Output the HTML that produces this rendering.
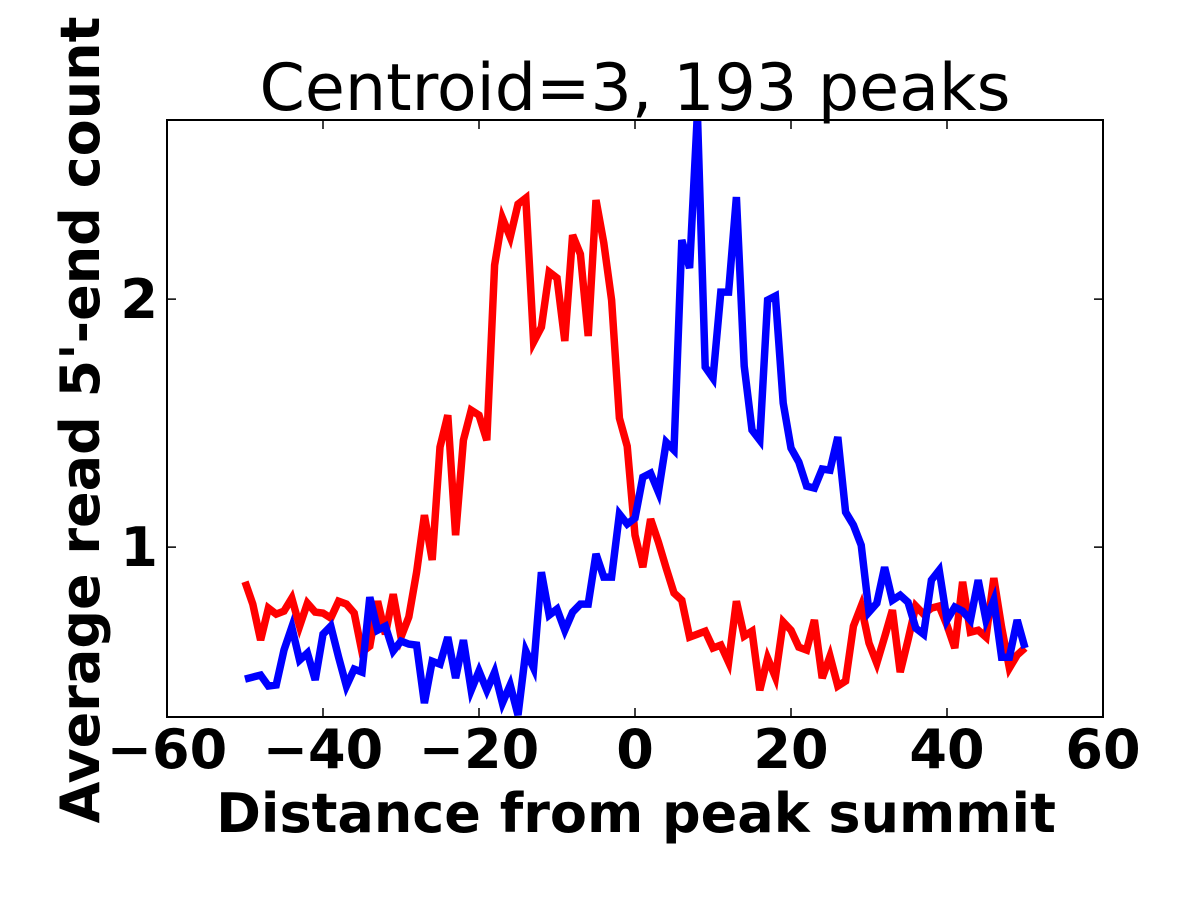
<!DOCTYPE html>
<html><head><meta charset="utf-8"><style>
html,body{margin:0;padding:0;background:#fff;}
svg{display:block;font-family:"DejaVu Sans","Liberation Sans",sans-serif;}
</style></head><body>
<svg id="chart" width="1200" height="900" viewBox="0 0 1200 900">
<rect width="1200" height="900" fill="#fff"/>
<text x="635" y="110" text-anchor="middle" font-size="65">Centroid=3, 193 peaks</text>
<defs><clipPath id="clip"><rect x="167" y="120" width="936" height="597"/></clipPath></defs>
<g id="series" clip-path="url(#clip)"></g>
<g id="axes"></g>
<text x="636" y="832" text-anchor="middle" font-size="54" font-weight="bold">Distance from peak summit</text>
<text transform="translate(99,420) rotate(-90)" text-anchor="middle" font-size="54" font-weight="bold">Average read 5'-end count</text>
</svg>
<script>
const xValues = Array.from({length:101},(_,i)=>i-50);
const redValues = [0.86,0.77,0.625,0.754,0.73,0.742,0.794,0.681,0.774,0.738,0.734,0.714,0.782,0.77,0.734,0.577,0.601,0.782,0.649,0.81,0.637,0.718,0.899,1.129,0.948,1.403,1.532,1.048,1.431,1.552,1.532,1.431,2.137,2.327,2.25,2.383,2.407,1.827,1.887,2.109,2.085,1.831,2.258,2.181,1.851,2.399,2.226,1.996,1.52,1.407,1.048,0.919,1.113,1.02,0.915,0.815,0.786,0.637,0.649,0.661,0.593,0.605,0.536,0.782,0.641,0.661,0.423,0.552,0.476,0.698,0.665,0.597,0.585,0.706,0.472,0.56,0.44,0.46,0.681,0.762,0.613,0.532,0.637,0.746,0.496,0.625,0.762,0.73,0.754,0.762,0.685,0.593,0.86,0.657,0.665,0.637,0.875,0.677,0.512,0.565,0.593];
const blueValues = [0.468,0.476,0.484,0.44,0.444,0.585,0.677,0.544,0.573,0.464,0.649,0.681,0.556,0.44,0.508,0.496,0.798,0.665,0.681,0.581,0.621,0.609,0.605,0.371,0.54,0.528,0.637,0.472,0.625,0.423,0.5,0.423,0.496,0.371,0.444,0.323,0.581,0.512,0.899,0.726,0.75,0.665,0.738,0.77,0.77,0.972,0.879,0.879,1.133,1.093,1.117,1.282,1.298,1.222,1.423,1.391,2.238,2.125,2.75,1.726,1.681,2.028,2.028,2.411,1.73,1.472,1.431,1.996,2.012,1.581,1.399,1.343,1.246,1.238,1.315,1.31,1.444,1.141,1.089,1.008,0.738,0.774,0.919,0.786,0.806,0.778,0.673,0.649,0.867,0.907,0.706,0.758,0.742,0.706,0.867,0.706,0.786,0.556,0.556,0.706,0.593];
const xTicks = [-60,-40,-20,0,20,40,60];
const xTickLabels = ["\u221260","\u221240","\u221220","0","20","40","60"];
const yTicks = [1,2];
const yTickLabels = ["1","2"];
const X0=167,X1=1103,Y0=717,Y1=120,XMIN=-60,XMAX=60,YMIN=0.315,YMAX=2.722;
const sx=v=>X0+(v-XMIN)/(XMAX-XMIN)*(X1-X0);
const sy=v=>Y0-(v-YMIN)/(YMAX-YMIN)*(Y0-Y1);
const NS="http://www.w3.org/2000/svg";
const mk=(t,a)=>{const e=document.createElementNS(NS,t);for(const k in a)e.setAttribute(k,a[k]);return e;};
const series=document.getElementById('series'),axes=document.getElementById('axes');
[[redValues,'#ff0000','red-series-line'],[blueValues,'#0000ff','blue-series-line']].forEach(([vals,col,name])=>{
  const p=mk('polyline',{points:vals.map((v,i)=>sx(xValues[i]).toFixed(1)+','+sy(v).toFixed(1)).join(' '),fill:'none',stroke:col,'stroke-width':7.5,'stroke-linejoin':'miter'});
  
  
  series.appendChild(p);
});
const frame=mk('rect',{x:X0,y:Y1,width:X1-X0,height:Y0-Y1,fill:'none',stroke:'#000','stroke-width':2});


axes.appendChild(frame);
xTicks.forEach((t,i)=>{
  const x=sx(t);
  const tk=mk('path',{d:`M${x},${Y0}v-9M${x},${Y1}v9`,stroke:'#000','stroke-width':1.5});
  
  
  axes.appendChild(tk);
  const tl=mk('text',{x:x,y:768,'text-anchor':'middle','font-size':54,'font-weight':'bold'});
  tl.textContent=xTickLabels[i];
  
  
  axes.appendChild(tl);
});
yTicks.forEach((t,i)=>{
  const y=sy(t);
  const tk=mk('path',{d:`M${X0},${y}h9M${X1},${y}h-9`,stroke:'#000','stroke-width':1.5});
  
  
  axes.appendChild(tk);
  const tl=mk('text',{x:158,y:y+19,'text-anchor':'end','font-size':54,'font-weight':'bold'});
  tl.textContent=yTickLabels[i];
  
  
  axes.appendChild(tl);
});
</script>
</body></html>
